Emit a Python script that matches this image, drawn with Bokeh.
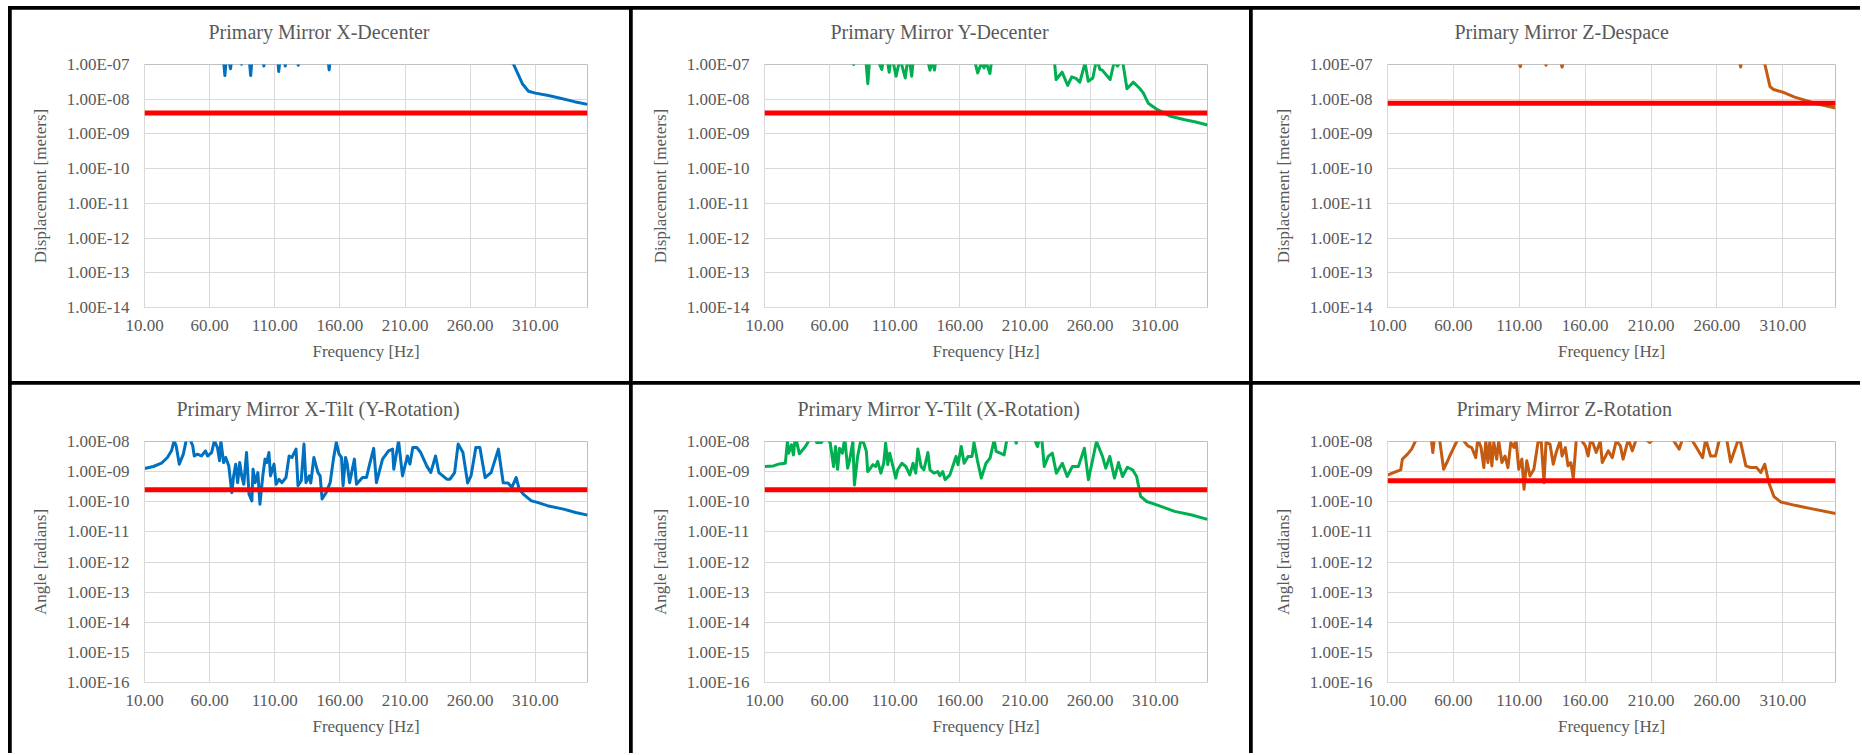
from bokeh.plotting import figure
from bokeh.layouts import row, column
from bokeh.models import Range1d, FixedTicker, CustomJSTickFormatter, Span, Spacer, Title
from bokeh.embed import file_html
from bokeh.resources import INLINE

# ---------------- data ----------------
X_TICKS = [10, 60, 110, 160, 210, 260, 310]
X_MIN, X_MAX = 10, 350
Y_TICKS_DISP = [1e-14, 1e-13, 1e-12, 1e-11, 1e-10, 1e-9, 1e-8, 1e-7]
Y_TICKS_ANG = [1e-16, 1e-15, 1e-14, 1e-13, 1e-12, 1e-11, 1e-10, 1e-9, 1e-8]

TITLES = ["Primary Mirror X-Decenter", "Primary Mirror Y-Decenter", "Primary Mirror Z-Despace",
          "Primary Mirror X-Tilt (Y-Rotation)", "Primary Mirror Y-Tilt (X-Rotation)", "Primary Mirror Z-Rotation"]
Y_LABELS = ["Displacement [meters]"] * 3 + ["Angle [radians]"] * 3
X_LABEL = "Frequency [Hz]"
THRESHOLDS = [4e-9, 4e-9, 7.7e-9, 2.5e-10, 2.5e-10, 5e-10]

XDEC_F = [10, 40, 70, 71.7, 73, 75, 76, 77.5, 83, 84.5, 86, 90, 91.5, 93, 100, 101.6, 103, 112, 113, 114.5,
          116.5, 118, 120, 126.5, 128, 130, 150.5, 151.7, 153, 200, 280, 293.3, 300, 304.7, 310, 320, 330, 340, 350]
XDEC_V = [3e-7, 5e-7, 2.5e-7, 4.8e-8, 2e-7, 1.2e-7, 7.5e-8, 2e-7, 2e-7, 1.02e-7, 3e-7, 2e-7, 4.8e-8, 2.5e-7, 2e-7, 9e-8, 2e-7, 2e-7, 6.3e-8, 2e-7,
          2e-7, 9e-8, 2e-7, 2e-7, 9.5e-8, 3e-7, 2e-7, 7e-8, 2e-7, 5e-7, 4e-7, 1e-7, 2.8e-8, 1.7e-8, 1.5e-8, 1.28e-8, 1.05e-8, 8.5e-9, 7.1e-9]

YDEC_F = [10, 75, 78.4, 80, 87, 89.3, 91, 95, 100, 101.5, 104, 105.7, 107.5, 111, 114, 118, 120.5, 123, 124.5,
          135, 137, 139, 140.5, 142, 170, 173.6, 176.5, 178.5, 180, 183, 185, 200, 232, 233.8, 238.4, 242.7, 245.8,
          249, 252, 256, 258.5, 262, 265, 267.4, 269, 275.3, 278.4, 281, 284.5, 288.2, 293, 297.7, 300.8, 304.5,
          311.6, 320.9, 331.7, 341, 350]
YDEC_V = [3e-7, 2e-7, 1e-7, 2e-7, 3e-7, 2.8e-8, 2e-7, 2e-7, 7.2e-8, 1.5e-7, 1.5e-7, 6e-8, 2e-7, 4.6e-8, 1.5e-7, 4.1e-8, 2e-7, 4.6e-8, 2e-7,
          1.5e-7, 6.9e-8, 1.2e-7, 6.9e-8, 2e-7, 2e-7, 5.7e-8, 1.1e-7, 8e-8, 1.2e-7, 5.5e-8, 2e-7, 5e-7, 2e-7, 3.7e-8, 6e-8, 2.5e-8, 4.4e-8,
          4e-8, 3.1e-8, 1.1e-7, 3.3e-8, 4.1e-8, 1.5e-7, 7.2e-8, 7e-8, 3.7e-8, 1.2e-7, 9e-8, 1.5e-7, 2e-8, 3.1e-8, 2.1e-8, 1.5e-8, 7.7e-9,
          5e-9, 3.3e-9, 2.6e-9, 2.2e-9, 1.8e-9]

ZDES_F = [10, 108, 110.8, 113, 128, 130.3, 132, 140, 142.5, 145, 276, 278, 280, 296.3, 300.3, 303, 310, 319, 328, 337.5, 350]
ZDES_V = [3e-7, 2e-7, 8.7e-8, 2e-7, 2e-7, 9.5e-8, 2e-7, 2e-7, 8.4e-8, 2e-7, 2e-7, 8.5e-8, 2e-7, 1.05e-7, 2.3e-8, 1.9e-8, 1.6e-8, 1.15e-8, 9.1e-9, 7.1e-9, 5.6e-9]

XTILT_F = [10, 16.8, 23, 27.6, 30.7, 32.7, 34.3, 36.7, 39.8, 41.9, 44, 47, 48.2, 50.7, 53.7, 56.8, 58.4, 61.5, 63.6, 66,
           67.6, 68.6, 70.7, 72.3, 74.7, 77, 78.4, 80, 81.5, 83.1, 84.6, 86.2, 88.3, 90.2, 92.4, 93.3, 94.9, 97, 98.6, 100.8,
           102.5, 103.8, 105.5, 106.7, 109.4, 111, 113.2, 115.5, 118.6, 121, 123.2, 126.3, 127.8, 130.3, 132.4, 133.9, 136.4, 137.6, 140, 143.1,
           144.8, 146.3, 149.4, 152.5, 155, 157.2, 159.3, 161.2, 162.4, 164.3, 165.5, 167.4, 171.1, 172.7, 177.3, 180.4, 182.8, 185.9, 188, 192.7,
           197.3, 200.4, 201.3, 203.5, 205, 208, 211.8, 213.7, 215.9, 219, 222, 226.6, 229.7, 233.4, 235.9, 239, 242, 244.5, 248, 250.7,
           254.4, 258, 260.6, 264.3, 267.4, 271.4, 276, 281.6, 285.3, 289, 292, 295.2, 297.6, 300.7, 306.9, 311.5, 319.2, 331.6, 340.9, 350]
XTILT_V = [1.27e-9, 1.48e-9, 1.9e-9, 2.95e-9, 4.9e-9, 1.05e-8, 7.2e-9, 1.77e-9, 3.8e-9, 1.05e-8, 1.5e-8, 7.2e-9, 3.3e-9, 3.8e-9, 3.3e-9, 4.9e-9, 3.3e-9, 4.3e-9, 1.05e-8, 6.3e-9,
           2.3e-9, 1.05e-8, 2e-9, 2.95e-9, 1.55e-9, 2e-10, 7.2e-10, 1.77e-9, 4.3e-10, 2e-9, 7.2e-10, 3.8e-10, 4.3e-9, 1.8e-10, 1.07e-10, 1.2e-9, 4.3e-10, 9.3e-10, 8.3e-11, 7.2e-10,
           2.6e-9, 2e-9, 4.3e-9, 7.2e-10, 1.77e-9, 3.8e-10, 5.6e-10, 4.3e-10, 6.4e-10, 3.3e-9, 2.95e-9, 5.6e-9, 3.4e-10, 5e-10, 8.2e-9, 4.3e-10, 7.2e-10, 4.2e-10, 2.95e-9, 9.3e-10,
           7.2e-10, 1.23e-10, 2e-10, 4.3e-10, 2.6e-9, 9.3e-9, 3.8e-9, 2.95e-9, 3.4e-10, 2.95e-9, 1.9e-9, 4.3e-10, 2.6e-9, 3.8e-10, 6.4e-10, 6.4e-10, 1.77e-9, 5.9e-9, 4.3e-10, 2.6e-9,
           4.9e-9, 5.6e-9, 1.2e-9, 4.3e-9, 1.05e-8, 7.2e-10, 3.3e-9, 1.77e-9, 6.3e-9, 6.3e-9, 4.3e-9, 1.55e-9, 9.3e-10, 3.3e-9, 9.3e-10, 7.2e-10, 5.6e-10, 5.6e-10, 9.3e-10, 8.2e-9,
           4.3e-9, 4.2e-10, 7.2e-10, 6.3e-9, 6.3e-9, 6.4e-10, 9.3e-10, 5.6e-9, 4.3e-10, 4.2e-10, 3e-10, 6.4e-10, 2.6e-10, 1.8e-10, 1.07e-10, 9.5e-11, 7.4e-11, 5.7e-11, 4.4e-11, 3.6e-11]

YTILT_F = [10, 16.8, 21.4, 26, 27.6, 28.5, 30.7, 32.2, 33.7, 36.8, 41.4, 44.5, 48, 50, 53.7, 57, 60.5, 63, 64.5, 66.1,
           67.6, 69.8, 71.6, 73.8, 75.4, 77.8, 79, 81.5, 84, 86.2, 88.2, 89.2, 91.3, 93.2, 95.3, 96.9, 99.3, 101.5, 103, 104.6,
           106.1, 108.6, 110.7, 112.2, 115.4, 118.5, 121.5, 124, 126.1, 127.7, 130.2, 132.3, 135.4, 137, 140, 143, 144.6, 146.8, 148.6, 152.3,
           157, 158.5, 161, 163.2, 166.2, 169.3, 170.8, 173.3, 176.4, 180, 183.1, 186.3, 187.8, 190.9, 193.9, 196, 200, 203.2, 206, 215,
           219.5, 220.8, 223, 224.7, 227.8, 230.9, 234, 238.6, 242.3, 246.3, 250.9, 255.5, 258.6, 264.8, 269.4, 271.9, 275, 278.6, 281.7, 284.8,
           288.5, 292.5, 295.6, 298.7, 303.3, 311, 324.8, 337.2, 350]
YTILT_V = [1.48e-9, 1.55e-9, 1.8e-9, 1.9e-9, 1e-8, 4.1e-9, 7.8e-9, 3.6e-9, 1.5e-8, 3.9e-9, 6.8e-9, 1.14e-8, 1.5e-8, 9.3e-9, 9.3e-9, 1.5e-8, 8.8e-9, 1.48e-9, 6.8e-9, 1.2e-9,
           6e-9, 4.1e-9, 1.3e-8, 1.3e-9, 2.46e-9, 1e-8, 3.6e-10, 3.2e-9, 1.14e-8, 8.8e-9, 4.7e-9, 1e-9, 1.3e-9, 1.7e-9, 1.48e-9, 2.2e-9, 8.9e-10, 1.9e-9, 8.8e-9, 1.7e-9,
           4.1e-9, 1.48e-9, 6.1e-10, 1.15e-9, 1.9e-9, 1.48e-9, 7.8e-10, 1.9e-9, 8.9e-10, 5.6e-9, 1.48e-9, 1.15e-9, 4.3e-9, 1.15e-9, 8.9e-10, 1e-9, 7.3e-10, 1e-9, 5.4e-10, 7.8e-10,
           3.2e-9, 1.7e-9, 6.8e-9, 1.9e-9, 3.2e-9, 3.2e-9, 9.3e-9, 2.46e-9, 6.1e-10, 1.9e-9, 2.8e-9, 1.14e-8, 4.7e-9, 4.1e-9, 3.6e-9, 1.14e-8, 2e-8, 8.8e-9, 2e-8, 2e-8,
           6.8e-9, 1.14e-8, 1e-8, 1.48e-9, 3.2e-9, 4.1e-9, 8.9e-10, 1.9e-9, 6.9e-10, 1.48e-9, 1.48e-9, 6e-9, 5.4e-10, 1e-8, 3.2e-9, 1.3e-9, 3.2e-9, 6.1e-10, 2e-9, 6.9e-10,
           1.4e-9, 1.15e-9, 6.9e-10, 1.5e-10, 1.02e-10, 7.9e-11, 4.8e-11, 3.7e-11, 2.6e-11]

ZROT_F = [10, 14.6, 20, 21.3, 25.2, 28.3, 31.3, 35, 43, 44.4, 45.5, 49.5, 52.6, 55.7, 57.2, 60.3, 62.8, 65, 70.9, 73.9,
          77, 78.5, 81, 83.1, 84.6, 86.2, 87.7, 89.2, 90.7, 92.9, 94.4, 96.8, 99.2, 101.4, 103.6, 106, 107.5, 109.6, 112, 113.6,
          115.7, 118.1, 121.1, 124.2, 126.6, 128.8, 130.3, 133.3, 135.8, 138, 141, 142.5, 145, 147, 149.1, 151, 153.2, 154.7, 160.2, 162.3,
          164.4, 168.4, 171.5, 173, 177.5, 180.6, 183.6, 186.7, 188.8, 192.8, 195.8, 198.8, 203, 208.9, 215, 225, 227.2, 231.4, 233.8, 241.5,
          244.5, 249.1, 251.5, 255.2, 258.9, 262, 267, 270.4, 275.9, 278, 282, 285.7, 290.2, 293.3, 296.3, 299.4, 303.3, 308.5, 319.2, 331.4, 350]
ZROT_V = [7.6e-10, 9.3e-10, 1.14e-9, 2.6e-9, 3.8e-9, 5.6e-9, 1.05e-8, 1.5e-8, 1.5e-8, 4.3e-9, 1.2e-8, 1.2e-8, 1.2e-9, 2.3e-9, 3.3e-9, 6.3e-9, 1.05e-8, 1.5e-8, 7.2e-9, 6.3e-9,
          2.9e-9, 1.2e-8, 6.3e-9, 1.36e-9, 1.05e-8, 2e-9, 1.05e-8, 1.55e-9, 9.3e-9, 2.6e-9, 1.05e-8, 2e-9, 3.3e-9, 1.36e-9, 9.3e-9, 6.3e-9, 1.2e-8, 1.2e-9, 2.6e-9, 2.6e-10,
          2.3e-9, 7.2e-10, 1.2e-9, 9.3e-9, 1.05e-8, 4.3e-10, 9.3e-9, 8.2e-9, 1.76e-9, 4.3e-9, 1.05e-8, 3.3e-9, 6.3e-9, 1.55e-9, 2e-9, 5.9e-10, 1.05e-8, 1.5e-8, 7.2e-9, 3.3e-9,
          1.36e-8, 4.3e-9, 1.05e-8, 2e-9, 4.9e-9, 2.9e-9, 1.05e-8, 7.2e-9, 2.6e-9, 1.2e-8, 4.9e-9, 1.2e-8, 1.5e-8, 9.3e-9, 1.5e-8, 1.5e-8, 1.05e-8, 5.6e-9, 1.2e-8, 1.05e-8,
          6.3e-9, 2.9e-9, 1.2e-8, 3.3e-9, 3.3e-9, 1.2e-8, 1.5e-8, 2.1e-9, 1.05e-8, 9.3e-9, 1.55e-9, 1.36e-9, 1.36e-9, 9.3e-10, 1.76e-9, 4.3e-10, 1.48e-10, 9.8e-11, 7.6e-11, 5.9e-11, 4.1e-11]

SERIES_F = [XDEC_F, YDEC_F, ZDES_F, XTILT_F, YTILT_F, ZROT_F]
SERIES_V = [XDEC_V, YDEC_V, ZDES_V, XTILT_V, YTILT_V, ZROT_V]
COLORS = ["#0070C0", "#00B050", "#C55A11", "#0070C0", "#00B050", "#C55A11"]

FONT = "Liberation Serif"
TXT = "#595959"
GRID = "#d9d9d9"

Y_FMT = CustomJSTickFormatter(code="""
const e = Math.round(Math.log10(tick));
const m = tick / Math.pow(10, e);
const a = Math.abs(e);
return m.toFixed(2) + "E" + (e < 0 ? "-" : "+") + (a < 10 ? "0" + a : "" + a);
""")
X_FMT = CustomJSTickFormatter(code="return Number(tick).toFixed(2);")

# panel geometry: (width, height, left, right, top, bottom, title_offset)
GEOM = [
    (618, 372, 133, 42, 55, 74, 64),
    (617, 372, 132, 42, 55, 74, 66),
    (608, 372, 135, 25, 55, 74, 67),
    (618, 369, 133, 42, 57, 71, 32),
    (617, 369, 132, 42, 57, 71, 33),
    (608, 369, 135, 25, 57, 71, 69),
]


def make_panel(i):
    w, h, bl, br, bt, bb, toff = GEOM[i]
    yt = Y_TICKS_DISP if i < 3 else Y_TICKS_ANG
    p = figure(width=w, height=h, y_axis_type="log",
               x_range=Range1d(X_MIN, X_MAX), y_range=Range1d(yt[0], yt[-1]),
               output_backend="svg", toolbar_location=None,
               min_border_left=bl, min_border_right=br, min_border_top=bt, min_border_bottom=bb,
               background_fill_color="white", border_fill_color="white", outline_line_color=None)
    # small white gap item between the frame and the title (above items sit nearer the frame than p.title)
    p.add_layout(Title(text=" ", text_font_size="1px", standoff=11, text_color="white"), "above")
    p.title.text = TITLES[i]
    p.title.align = "left"
    p.title.offset = toff
    p.title.standoff = 16
    p.title.text_font = FONT
    p.title.text_font_size = "20px"
    p.title.text_font_style = "normal"
    p.title.text_color = TXT

    p.xaxis.ticker = FixedTicker(ticks=X_TICKS, minor_ticks=[])
    p.yaxis.ticker = FixedTicker(ticks=yt, minor_ticks=[])
    p.xgrid.ticker = FixedTicker(ticks=X_TICKS, minor_ticks=[])
    p.ygrid.ticker = FixedTicker(ticks=yt, minor_ticks=[])
    p.xaxis.formatter = X_FMT
    p.yaxis.formatter = Y_FMT
    for ax in (p.xaxis, p.yaxis):
        ax.axis_line_color = GRID
        ax.major_tick_line_color = None
        ax.minor_tick_line_color = None
        ax.major_tick_out = 0
        ax.major_tick_in = 0
        ax.major_label_text_font = FONT
        ax.major_label_text_font_size = "17px"
        ax.major_label_text_color = TXT
        ax.axis_label_text_font = FONT
        ax.axis_label_text_font_size = "17px"
        ax.axis_label_text_font_style = "normal"
        ax.axis_label_text_color = TXT
    p.xaxis.axis_label = X_LABEL
    p.yaxis.axis_label = Y_LABELS[i]
    p.yaxis.major_label_standoff = 15
    p.yaxis.axis_label_standoff = 14
    p.xaxis.major_label_standoff = 12
    p.xaxis.axis_label_standoff = 8
    p.xgrid.grid_line_color = GRID
    p.ygrid.grid_line_color = GRID
    p.xgrid.grid_line_width = 1
    p.ygrid.grid_line_width = 1

    p.line(SERIES_F[i], SERIES_V[i], line_color=COLORS[i], line_width=3, line_join="round")
    p.add_layout(Span(location=THRESHOLDS[i], dimension="width", line_color="#FF0000", line_width=5))
    return p


panels = [make_panel(i) for i in range(6)]
top = row(Spacer(width=3), panels[0], Spacer(width=3), panels[1], Spacer(width=3), panels[2])
bot = row(Spacer(width=3), panels[3], Spacer(width=3), panels[4], Spacer(width=3), panels[5])
grid = column(Spacer(height=3), top, Spacer(height=3), bot, styles={"background-color": "black"})
layout = column(Spacer(height=6), row(Spacer(width=8), grid))

open("out.html", "w").write(file_html(layout, INLINE))
